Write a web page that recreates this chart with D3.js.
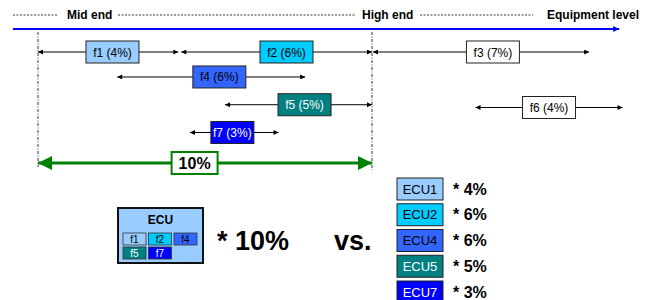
<!DOCTYPE html>
<html lang="en">
<head>
  <meta charset="UTF-8">
  <title>ECU functions</title>
  <style>
    body { margin: 0; background: #fff; }
    svg text { font-family: "Liberation Sans", Arial, sans-serif; }
    .hdr { font-size: 12px; font-weight: bold; fill: #000; }
    .fbox text { font-size: 12px; text-anchor: middle; }
  </style>
</head>
<body>
  <div id="chart"></div>
  <script src="https://d3js.org/d3.v7.min.js"></script>
  <script>
    // function ranges, in % of the equipment scale (mid end = 0, high end = 10)
    var funcs  = ['f1', 'f2', 'f3', 'f4', 'f5', 'f7', 'f6']
    var shares = [4, 6, 7, 6, 5, 3, 4]
    var starts = [0, 4.29, 10.03, 2.37, 5.6, 4.55, 13.1]
    var ends   = [4.2, 10, 16.5, 8.0, 10, 7.2, 17.5]
    var labelAt = [2.23, 7.44, 13.62, 5.43, 7.98, 5.82, 15.3]
    var lanes  = [0, 0, 0, 0.9, 1.9, 2.9, 2]
    var total = 10
    var levels = ['Mid end', 'High end', 'Equipment level']

    var ecuFuncs = ['f1', 'f2', 'f4', 'f5', 'f7']
    var ecuNames = ['ECU1', 'ECU2', 'ECU4', 'ECU5', 'ECU7']
    var ecuShares = [4, 6, 6, 5, 3]

    var fill = {f1: '#99ccff', f2: '#00ccff', f3: '#ffffff', f4: '#3366ff', f5: '#008080', f6: '#ffffff', f7: '#0000ff'}
    var ink  = {f1: '#000', f2: '#000', f3: '#000', f4: '#000', f5: '#fff', f6: '#000', f7: '#fff'}

    var width = 653, height = 300
    var svg = d3.select('#chart').append('svg')
      .attr('width', width).attr('height', height)

    var x = d3.scaleLinear().domain([0, total]).range([38, 372])
    var y = d3.scaleLinear().domain([0, 4]).range([52, 163])

    var defs = svg.append('defs')
    function marker(id, color, w, h) {
      defs.append('marker').attr('id', id)
        .attr('viewBox', '0 0 10 10').attr('refX', 10).attr('refY', 5)
        .attr('markerWidth', w).attr('markerHeight', h)
        .attr('markerUnits', 'userSpaceOnUse')
        .attr('orient', 'auto-start-reverse')
        .append('path').attr('d', 'M0,0L10,5L0,10z').attr('fill', color)
    }
    marker('ab', '#000', 6, 5)
    marker('ablue', '#0000ff', 7, 6)
    marker('agreen', '#008000', 14, 14)

    // header: level labels with dotted leaders
    var hy = 15
    var hdr = svg.append('g')
    var lx = [67, 362, 547]
    levels.forEach(function (l, i) {
      hdr.append('text').attr('class', 'hdr')
        .attr('x', lx[i]).attr('y', hy + 4).text(l)
    })
    var segs = [[13, 57], [118, 356], [420, 533]]
    segs.forEach(function (s) {
      hdr.append('line').attr('x1', s[0]).attr('x2', s[1])
        .attr('y1', hy).attr('y2', hy)
        .attr('stroke', '#000').attr('stroke-width', 0.8)
        .attr('stroke-dasharray', '2,1.5')
    })

    // blue axis
    svg.append('line')
      .attr('x1', x(-0.75)).attr('x2', x(17.4))
      .attr('y1', 29).attr('y2', 29)
      .attr('stroke', '#0000ff').attr('stroke-width', 2)
      .attr('marker-end', 'url(#ablue)')

    // dash-dot boundaries
    ;[0, total].forEach(function (v, i) {
      svg.append('line')
        .attr('x1', x(v)).attr('x2', x(v))
        .attr('y1', 32).attr('y2', i ? 170 : 167)
        .attr('stroke', '#000').attr('stroke-width', 0.8)
        .attr('stroke-dasharray', '3,1.5,1,1.5')
    })

    var data = funcs.map(function (f, i) {
      return {f: f, share: shares[i], s: starts[i], e: ends[i], c: labelAt[i], lane: lanes[i]}
    })

    var rows = svg.selectAll('.fbox').data(data).enter()
      .append('g').attr('class', 'fbox')
    rows.append('line')
      .attr('x1', function (d) { return x(d.s) })
      .attr('x2', function (d) { return x(d.e) })
      .attr('y1', function (d) { return y(d.lane) })
      .attr('y2', function (d) { return y(d.lane) })
      .attr('stroke', '#000').attr('stroke-width', 1)
      .attr('marker-start', 'url(#ab)').attr('marker-end', 'url(#ab)')
    rows.append('rect')
      .attr('x', function (d) { return x(d.c) - (d.f === 'f7' ? 21.5 : 26.5) })
      .attr('y', function (d) { return y(d.lane) - 11 })
      .attr('width', function (d) { return d.f === 'f7' ? 43 : 53 })
      .attr('height', 22)
      .attr('fill', function (d) { return fill[d.f] })
      .attr('stroke', '#222').attr('stroke-width', 1)
    rows.append('text')
      .attr('x', function (d) { return x(d.c) })
      .attr('y', function (d) { return y(d.lane) + 4.5 })
      .attr('fill', function (d) { return ink[d.f] })
      .text(function (d) { return d.f + ' (' + d.share + '%)' })

    // green total arrow
    var gy = y(4)
    svg.append('line')
      .attr('x1', x(0)).attr('x2', x(total))
      .attr('y1', gy).attr('y2', gy)
      .attr('stroke', '#008000').attr('stroke-width', 3)
      .attr('marker-start', 'url(#agreen)').attr('marker-end', 'url(#agreen)')
    svg.append('rect')
      .attr('x', x(4)).attr('y', gy - 11)
      .attr('width', 46).attr('height', 22)
      .attr('fill', '#fff').attr('stroke', '#008000').attr('stroke-width', 2)
    svg.append('text')
      .attr('x', x(4) + 23).attr('y', gy + 6)
      .attr('text-anchor', 'middle')
      .style('font-size', '16px').style('font-weight', 'bold')
      .text(total + '%')

    // combined ECU
    var ecu = svg.append('g').attr('transform', 'translate(118,208)')
    ecu.append('rect').attr('width', 85).attr('height', 55)
      .attr('fill', '#99ccff').attr('stroke', '#111').attr('stroke-width', 2)
    ecu.append('text').attr('x', 42.5).attr('y', 16)
      .attr('text-anchor', 'middle')
      .style('font-size', '12px').style('font-weight', 'bold')
      .text('ECU')
    var cell = ecu.selectAll('.cell').data(ecuFuncs).enter()
      .append('g').attr('class', 'cell')
      .attr('transform', function (d, i) {
        return 'translate(' + (5 + (i % 3) * 25.5) + ',' + (25 + Math.floor(i / 3) * 14) + ')'
      })
    cell.append('rect').attr('width', 23).attr('height', 12)
      .attr('fill', function (d) { return fill[d] })
      .attr('stroke', '#333').attr('stroke-width', 0.8)
    cell.append('text').attr('x', 11.5).attr('y', 10)
      .attr('text-anchor', 'middle')
      .attr('fill', function (d) { return ink[d] })
      .style('font-size', '10px')
      .text(function (d) { return d })

    svg.append('text').attr('x', 217).attr('y', 250)
      .style('font-size', '27px').style('font-weight', 'bold')
      .text('* ' + total + '%')
    svg.append('text').attr('x', 334).attr('y', 250)
      .style('font-size', '27px').style('font-weight', 'bold')
      .text('vs.')

    // separate ECUs
    var ey = d3.scaleLinear().domain([0, 4]).range([178, 281])
    var sep = svg.selectAll('.sep').data(ecuNames).enter()
      .append('g').attr('class', 'sep')
      .attr('transform', function (d, i) { return 'translate(397,' + ey(i) + ')' })
    sep.append('rect').attr('width', 46).attr('height', 22)
      .attr('fill', function (d, i) { return fill[ecuFuncs[i]] })
      .attr('stroke', '#222').attr('stroke-width', 1)
    sep.append('text').attr('x', 23).attr('y', 15.5)
      .attr('text-anchor', 'middle')
      .attr('fill', function (d, i) { return ink[ecuFuncs[i]] })
      .style('font-size', '13px')
      .text(function (d) { return d })
    sep.append('text').attr('x', 56).attr('y', 16.5)
      .style('font-size', '16px').style('font-weight', 'bold')
      .text(function (d, i) { return '* ' + ecuShares[i] + '%' })
  </script>
</body>
</html>
